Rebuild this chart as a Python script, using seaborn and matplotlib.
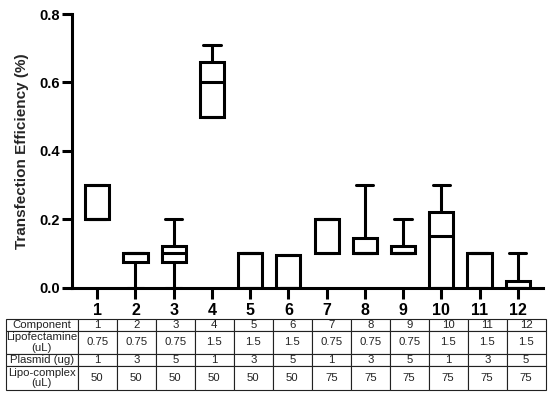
import matplotlib
matplotlib.use("Agg")
import matplotlib.pyplot as plt
import seaborn as sns
import pandas as pd

# ---- data ----
components = ["1", "2", "3", "4", "5", "6", "7", "8", "9", "10", "11", "12"]
# five-number summaries: min, q1, median, q3, max
g1 = [0.20, 0.20, 0.20, 0.30, 0.30]
g2 = [0.00, 0.075, 0.10, 0.10, 0.10]
g3 = [0.00, 0.075, 0.10, 0.12, 0.20]
g4 = [0.50, 0.50, 0.60, 0.66, 0.71]
g5 = [0.00, 0.00, 0.10, 0.10, 0.10]
g6 = [0.00, 0.00, 0.00, 0.095, 0.095]
g7 = [0.10, 0.10, 0.20, 0.20, 0.20]
g8 = [0.10, 0.10, 0.10, 0.145, 0.30]
g9 = [0.10, 0.10, 0.10, 0.12, 0.20]
g10 = [0.00, 0.00, 0.15, 0.22, 0.30]
g11 = [0.00, 0.00, 0.10, 0.10, 0.10]
g12 = [0.00, 0.00, 0.00, 0.02, 0.10]
groups = [g1, g2, g3, g4, g5, g6, g7, g8, g9, g10, g11, g12]

row_labels = ["Component", "Lipofectamine\n(uL)", "Plasmid (ug)", "Lipo-complex\n(uL)"]
lipofectamine = ["0.75", "0.75", "0.75", "1.5", "1.5", "1.5", "0.75", "0.75", "0.75", "1.5", "1.5", "1.5"]
plasmid = ["1", "3", "5", "1", "3", "5", "1", "3", "5", "1", "3", "5"]
lipo_complex = ["50", "50", "50", "50", "50", "50", "75", "75", "75", "75", "75", "75"]
ytick_values = [0.0, 0.2, 0.4, 0.6, 0.8]

df = pd.DataFrame({
    "component": [c for c, g in zip(components, groups) for _ in g],
    "value": [v for g in groups for v in g],
})

sns.set_style("ticks")
plt.rcParams["font.family"] = ["Liberation Sans", "DejaVu Sans"]

W, H = 550, 394
fig = plt.figure(figsize=(5.5, 3.94), dpi=100)
ax = fig.add_axes([72 / W, 1 - 287.5 / H, (543 - 72) / W, (287.5 - 14) / H])

lw = 2.2
sns.boxplot(data=df, x="component", y="value", order=components, ax=ax,
            whis=(0, 100), width=0.63, color="white", linecolor="black",
            linewidth=lw, fliersize=0, capwidths=0.45)

ax.set_xlim(-0.66, 11.66)
ax.set_ylim(0, 0.8)
ax.set_yticks(ytick_values)
ax.set_yticklabels([f"{v:.1f}" for v in ytick_values], fontweight="bold", fontsize=10.5)
ax.set_xticks(range(len(components)))
ax.set_xticklabels(components, fontweight="bold", fontsize=11.5)
ax.set_xlabel("")
ax.set_ylabel("Transfection Efficiency (%)", fontweight="bold", fontsize=11, labelpad=7)
for s in ["top", "right"]:
    ax.spines[s].set_visible(False)
for s in ["left", "bottom"]:
    ax.spines[s].set_linewidth(lw)
    ax.spines[s].set_color("black")
ax.tick_params(axis="both", width=lw, color="black", labelcolor="black")
ax.tick_params(axis="x", length=8, pad=3)
ax.tick_params(axis="y", length=7, pad=2)
ax.grid(False)

# ---- table ----
tax = fig.add_axes([6 / W, 1 - 390 / H, (545.7 - 6) / W, (390 - 318.7) / H])
tax.axis("off")
cell_text = [
    [row_labels[0]] + components,
    [row_labels[1]] + lipofectamine,
    [row_labels[2]] + plasmid,
    [row_labels[3]] + lipo_complex,
]
col_w = [71.7] + [38.9] * 12
tot = sum(col_w)
tbl = tax.table(cellText=cell_text, colWidths=[c / tot for c in col_w],
                cellLoc="center", bbox=[0, 0, 1, 1])
tbl.auto_set_font_size(False)
tbl.set_fontsize(8.2)
row_h = [12.0, 23.3, 12.0, 24.0]
for (r, c), cell in tbl.get_celld().items():
    cell.set_height(row_h[r] / sum(row_h))
    cell.set_linewidth(0.8)
    cell.set_edgecolor("#222222")
    cell.get_text().set_color("#222222")
    cell.get_text().set_linespacing(1.1)

fig.savefig("out.png", dpi=100)
